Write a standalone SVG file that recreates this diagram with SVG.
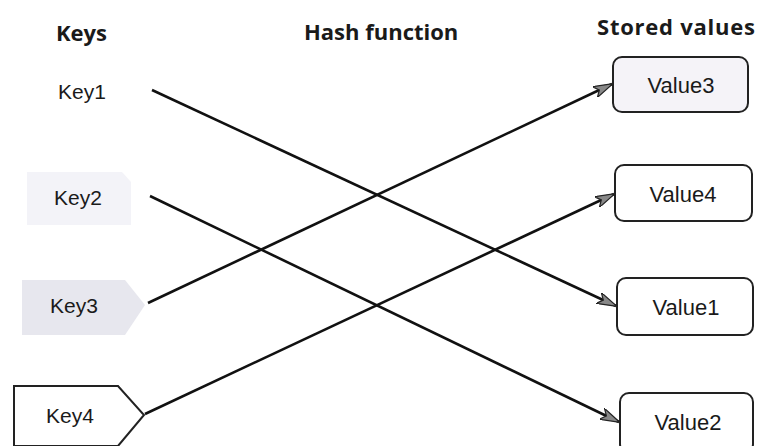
<svg xmlns="http://www.w3.org/2000/svg" width="762" height="446" viewBox="0 0 762 446">
<defs>
<style>
.hdr{font-family:"Open Sans","Liberation Sans",sans-serif;font-weight:bold;font-size:22px;fill:#1a1a1a}
.lbl{font-family:"Liberation Sans",Arial,sans-serif;font-size:21px;fill:#1a1a1a;text-anchor:middle;dominant-baseline:central}
.val{font-family:"Liberation Sans",Arial,sans-serif;font-size:22px;fill:#1a1a1a;text-anchor:middle;dominant-baseline:central}
.box{fill:#ffffff;stroke:#222;stroke-width:2}
.edge{stroke:#111;stroke-width:2.6;fill:none;marker-end:url(#arr)}
</style>
<marker id="arr" viewBox="0 0 20 12" refX="19" refY="6" markerWidth="20" markerHeight="12" markerUnits="userSpaceOnUse" orient="auto">
<path d="M0,0 L20,6 L0,12 L5,6 Z" fill="#888" stroke="#222" stroke-width="1.2"/>
</marker>
</defs>
<rect width="762" height="446" fill="#ffffff"/>
<g id="headers">
<text class="hdr" x="56" y="41">Keys</text>
<text class="hdr" x="304" y="40">Hash function</text>
<text class="hdr" x="597" y="35" textLength="158" lengthAdjust="spacing">Stored values</text>
</g>
<g id="key1"><text class="lbl" x="82" y="91">Key1</text></g>
<g id="key2">
<path d="M27,172 L122,172 L131,182 L131,225 L27,225 Z" fill="#f3f3f8"/>
<text class="lbl" x="78" y="197">Key2</text>
</g>
<g id="key3">
<path d="M22,280 L125,280 L145,305 L125,335 L22,335 Z" fill="#e7e7ee"/>
<text class="lbl" x="74" y="305">Key3</text>
</g>
<g id="key4">
<path d="M14,386 L118,386 L144,415 L118,446 L14,446 Z" class="box"/>
<text class="lbl" x="70" y="415">Key4</text>
</g>
<g id="value3">
<rect x="613" y="57" width="135" height="55" rx="9" fill="#f5f3f8" stroke="#222" stroke-width="2"/>
<text class="val" x="681" y="85">Value3</text>
</g>
<g id="value4">
<rect x="615" y="165" width="137" height="56" rx="9" class="box"/>
<text class="val" x="683" y="194">Value4</text>
</g>
<g id="value1">
<rect x="617" y="278" width="136" height="57" rx="9" class="box"/>
<text class="val" x="686" y="307">Value1</text>
</g>
<g id="value2">
<rect x="620" y="393" width="133" height="60" rx="9" class="box"/>
<text class="val" x="688" y="422">Value2</text>
</g>
<g id="connectors">
<line class="edge" x1="152" y1="90" x2="616" y2="306"/>
<line class="edge" x1="150" y1="196" x2="619" y2="422"/>
<line class="edge" x1="148" y1="303" x2="612" y2="84"/>
<line class="edge" x1="145" y1="414" x2="614" y2="194"/>
</g>
</svg>
